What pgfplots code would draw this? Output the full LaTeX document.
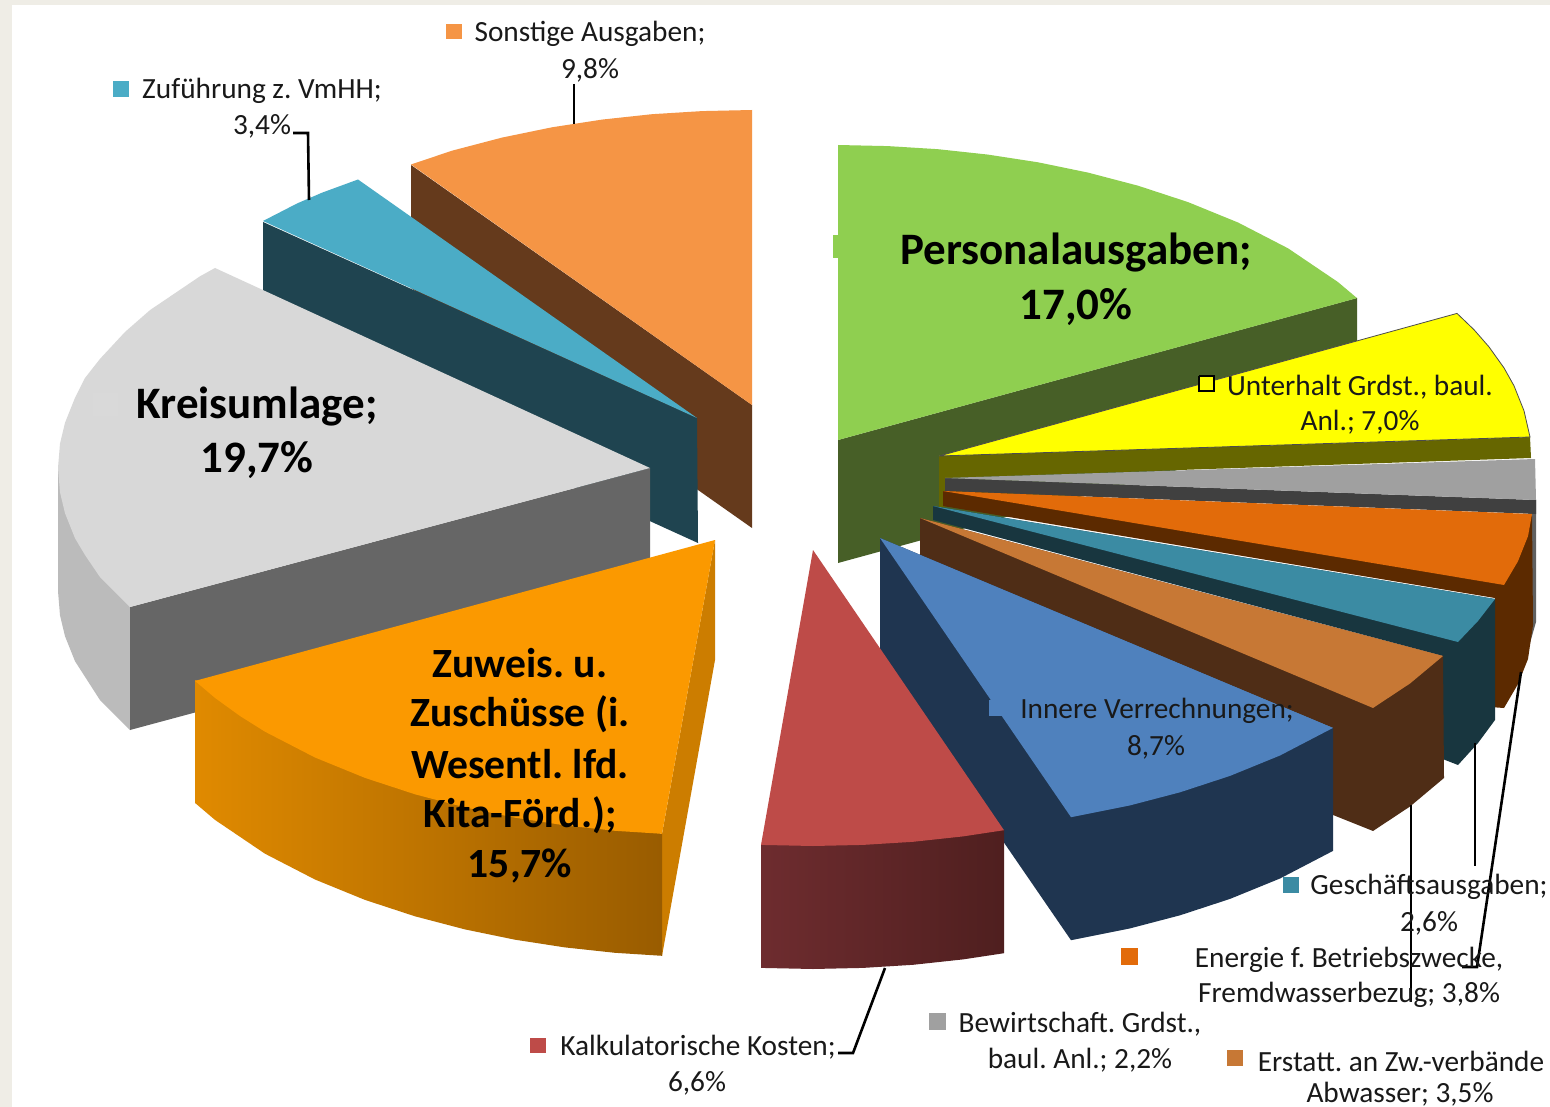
\documentclass[border=0pt]{standalone}
\usepackage{pgfplots}
\pgfplotsset{compat=1.18}
\usepackage{fontspec}
\setmainfont{Carlito}
\frenchspacing
\definecolor{bgb}{HTML}{EFEDE6}
\definecolor{sonT}{HTML}{F59545}
\definecolor{sonS}{HTML}{653A1C}
\definecolor{zufT}{HTML}{4BACC6}
\definecolor{zufS}{HTML}{1F4450}
\definecolor{kreT}{HTML}{D8D8D8}
\definecolor{kreS}{HTML}{666666}
\definecolor{kreO}{HTML}{BBBBBB}
\definecolor{zuwT}{HTML}{FB9900}
\definecolor{zuwR}{HTML}{CC7D00}
\definecolor{zuwA}{HTML}{E08A00}
\definecolor{zuwB}{HTML}{995C00}
\definecolor{perT}{HTML}{8FCF50}
\definecolor{perS}{HTML}{475F27}
\definecolor{yelT}{HTML}{FFFF00}
\definecolor{yelS}{HTML}{666600}
\definecolor{graT}{HTML}{A0A0A0}
\definecolor{graS}{HTML}{404040}
\definecolor{graO}{HTML}{606060}
\definecolor{engT}{HTML}{E26B0A}
\definecolor{engS}{HTML}{5C2A00}
\definecolor{gesT}{HTML}{3B8BA3}
\definecolor{gesS}{HTML}{18363F}
\definecolor{ersT}{HTML}{C77835}
\definecolor{ersS}{HTML}{4F2D16}
\definecolor{innT}{HTML}{4F81BD}
\definecolor{innS}{HTML}{1F3550}
\definecolor{kalT}{HTML}{BE4B48}
\definecolor{kalA}{HTML}{6E2C2F}
\definecolor{kalB}{HTML}{4F1F1F}
\newcommand\poly[2]{\addplot[draw=none,fill=#1,mark=none,forget plot] coordinates {#2};}
\newcommand\lead[1]{\addplot[draw=black,line width=2.6pt,mark=none,forget plot] coordinates {#1};}
\newcommand\reg[3]{\node[anchor=center,inner sep=0pt,text=black!90,yshift=-2pt] at (axis cs:#1,#2) {\fontsize{29.3}{30}\selectfont #3};}
\newcommand\bld[3]{\node[anchor=center,inner sep=0pt,text=black,yshift=-2pt] at (axis cs:#1,#2) {\fontsize{45}{46}\selectfont\bfseries #3};}
\newcommand\bldb[3]{\node[anchor=center,inner sep=0pt,text=black,yshift=-2pt] at (axis cs:#1,#2) {\fontsize{41.6}{42}\selectfont\bfseries #3};}
\begin{document}
\begin{tikzpicture}
\begin{axis}[scale only axis,width=1550pt,height=1107pt,xmin=0,xmax=1550,ymin=0,ymax=1107,y dir=reverse,axis lines=none,clip=false]
% background
\poly{bgb}{(0,0)(1550,0)(1550,1107)(0,1107)}
\poly{white}{(12,5)(1550,5)(1550,1107)(12,1107)}
% Sonstige Ausgaben
\poly{sonS}{(411,165)(752,405)(752,528)(411,288)}
\poly{sonT}{(752,405)(411,164.5)(452,150.7)(502,137.6)(552,127.3)(602,119.6)(652,114.2)(702,111.1)(752,110)}
% Zufuehrung
\poly{zufS}{(263,222)(697,418)(698,543)(263,345)}
\poly{zufT}{(697,418)(263,221)(297,203.5)(322,192.7)(358,179.5)}
% Kreisumlage
\poly{kreO}{(58,468)(130,607)(130,730)(100,700.1)(75,661.2)(65,636.2)(60,615.3)(58,591)}
\poly{kreS}{(130,607)(650,468)(650,590)(130,730)}
\poly{kreT}{(650,468)(215,268)(200,276.3)(150,310.1)(125,332)(100,358.9)(85,378)(75,397.8)(65,422.8)(60,443.7)(58,468)(60,492.3)(65,513.2)(75,538.2)(85,555)(100,577.1)(130,607)}
% Zuweisungen
\poly{zuwR}{(662,834)(715,540)(715,660)(662,956)}
\addplot[draw=none,left color=zuwA,right color=zuwB,mark=none,forget plot] coordinates {(195,680)(662,834)(662,955.8)(615,952.8)(565,947.4)(515,939.7)(465,929.4)(415,916.3)(365,899.9)(315,879.5)(265,853.7)(215,819.9)(195,802.9)};
\poly{zuwT}{(715,540)(195,680.9)(215,697.9)(240,716)(265,731.7)(315,757.5)(365,777.9)(415,794.3)(465,807.4)(515,817.7)(565,825.4)(615,830.8)(662,833.8)}
% Personalausgaben
\poly{perS}{(838,440)(1357,298)(1357,421)(838,563)}
\poly{perT}{(838,440)(838,145)(888,146.1)(938,149.2)(988,154.6)(1038,162.3)(1088,172.6)(1138,185.7)(1188,202.1)(1238,222.5)(1288,248.3)(1338,282.1)(1357,298.1)}
% Unterhalt
\poly{yelS}{(939,456)(1530,437)(1531,458)(945,478)(945,507)(939,507)}
\addplot[draw=black!70,line width=0.8pt,fill=yelT,mark=none,forget plot] coordinates {(939,456)(1457,313.4)(1474,329.7)(1489,346.9)(1504,367.9)(1514,385.8)(1524,410.8)(1530,437)(939,456)};
% Bewirtschaftung
\poly{graO}{(1528,500)(1536,500)(1536,622)(1528,650)}
\poly{graS}{(945,478)(1536,500)(1536,514)(945,491)}
\poly{graT}{(945,478)(1535,459)(1536,500)}
% Energie
\poly{engS}{(943,491)(1532,516)(1533,625)(1528,659)(1518,684)(1504,708)(1490,707)(1495,598)(943,506)}
\poly{engT}{(943,491)(1532,514)(1528,536.2)(1518,561.2)(1504,585)}
% Geschaeftsausgaben
\poly{gesS}{(933,506)(1495,599)(1495,720)(1478,743)(1458,765)(1440,758)(1443,656)(933,520)}
\poly{gesT}{(933,506)(1495,599)(1478,621)(1458,642)}
% Erstattungen
\poly{ersS}{(920,518)(1443,656)(1444,778)(1410,806.5)(1373,831)(1333,815)(1333,728)(920,555)}
\poly{ersT}{(920,518)(1443,656)(1410,683.5)(1373,708)}
% Innere Verrechnungen
\poly{innS}{(880,538)(880,662)(1071,940.2)(1130,928.4)(1180,915.3)(1230,898.9)(1280,878.5)(1333,850.9)(1333,728)}
\poly{innT}{(880,538)(1333,727.9)(1280,755.5)(1230,775.9)(1180,792.3)(1130,805.4)(1071,817.2)}
% Kalkulatorische Kosten
\addplot[draw=none,left color=kalA,right color=kalB,mark=none,forget plot] coordinates {(761,845)(1004,830)(1004,953.2)(963,959.4)(913,964.8)(863,967.9)(813,969)(761,967.9)};
\poly{kalT}{(813,550)(1004,830.2)(963,836.4)(913,841.8)(863,844.9)(813,846)(761,844.9)}
% leader lines
\lead{(574,84)(574,124)}
\lead{(293,133)(308,133)(309,200)}
\lead{(838,1053)(853,1053)(885,968)}
\lead{(1475,743)(1475,866)}
\lead{(1411,805)(1411,1002)}
\lead{(1521,672)(1477,967)(1462,967)}
% legend keys
\poly{sonT}{(446,24)(462,24)(462,39)(446,39)}
\poly{zufT}{(113,81)(129,81)(129,97)(113,97)}
\poly{perT}{(833,235)(858,235)(858,258)(833,258)}
\addplot[draw=black,line width=2.5pt,fill=yelT,mark=none,forget plot] coordinates {(1199,376)(1214,376)(1214,391)(1199,391)(1199,376)};
\poly{white!3!kreT}{(93,393)(118,393)(118,416)(93,416)}
\poly{zuwT}{(369,648)(390,648)(390,668)(369,668)}
\poly{innT}{(989,700)(1004,700)(1004,716)(989,716)}
\poly{kalT}{(530,1038)(546,1038)(546,1053)(530,1053)}
\poly{graT}{(929,1013)(946,1013)(946,1030)(929,1030)}
\poly{ersT}{(1227,1050)(1243,1050)(1243,1066)(1227,1066)}
\poly{engT}{(1121,948)(1138,948)(1138,965)(1121,965)}
\poly{gesT}{(1283,877)(1299,877)(1299,893)(1283,893)}
% labels
\reg{590}{32}{Sonstige Ausgaben;}
\reg{590}{68}{9,8\%}
\reg{262}{89}{Zuführung z. VmHH;}
\reg{262}{124}{3,4\%}
\bld{1076}{251}{Personalausgaben;}
\bld{1076}{305}{17,0\%}
\reg{1360}{385}{Unterhalt Grdst., baul.}
\reg{1360}{420}{Anl.; 7,0\%}
\bld{257}{405}{Kreisumlage;}
\bld{257}{458}{19,7\%}
\bldb{520}{661}{Zuweis. u.}
\bldb{520}{712}{Zuschüsse (i.}
\bldb{520}{762}{Wesentl. lfd.}
\bldb{520}{813}{Kita-Förd.);}
\bldb{520}{864}{15,7\%}
\reg{1157}{709}{Innere Verrechnungen;}
\reg{1156}{745}{8,7\%}
\reg{698}{1045}{Kalkulatorische Kosten;}
\reg{697}{1081}{6,6\%}
\reg{1080}{1022}{Bewirtschaft. Grdst.,}
\reg{1080}{1058}{baul. Anl.; 2,2\%}
\reg{1401}{1059}{Erstatt. an Zw.-verbände}
\reg{1400}{1092}{Abwasser; 3,5\%}
\reg{1349}{958}{Energie f. Betriebszwecke,}
\reg{1349}{993}{Fremdwasserbezug; 3,8\%}
\reg{1429}{885}{Geschäftsausgaben;}
\reg{1429}{921}{2,6\%}
\end{axis}
\end{tikzpicture}
\end{document}
